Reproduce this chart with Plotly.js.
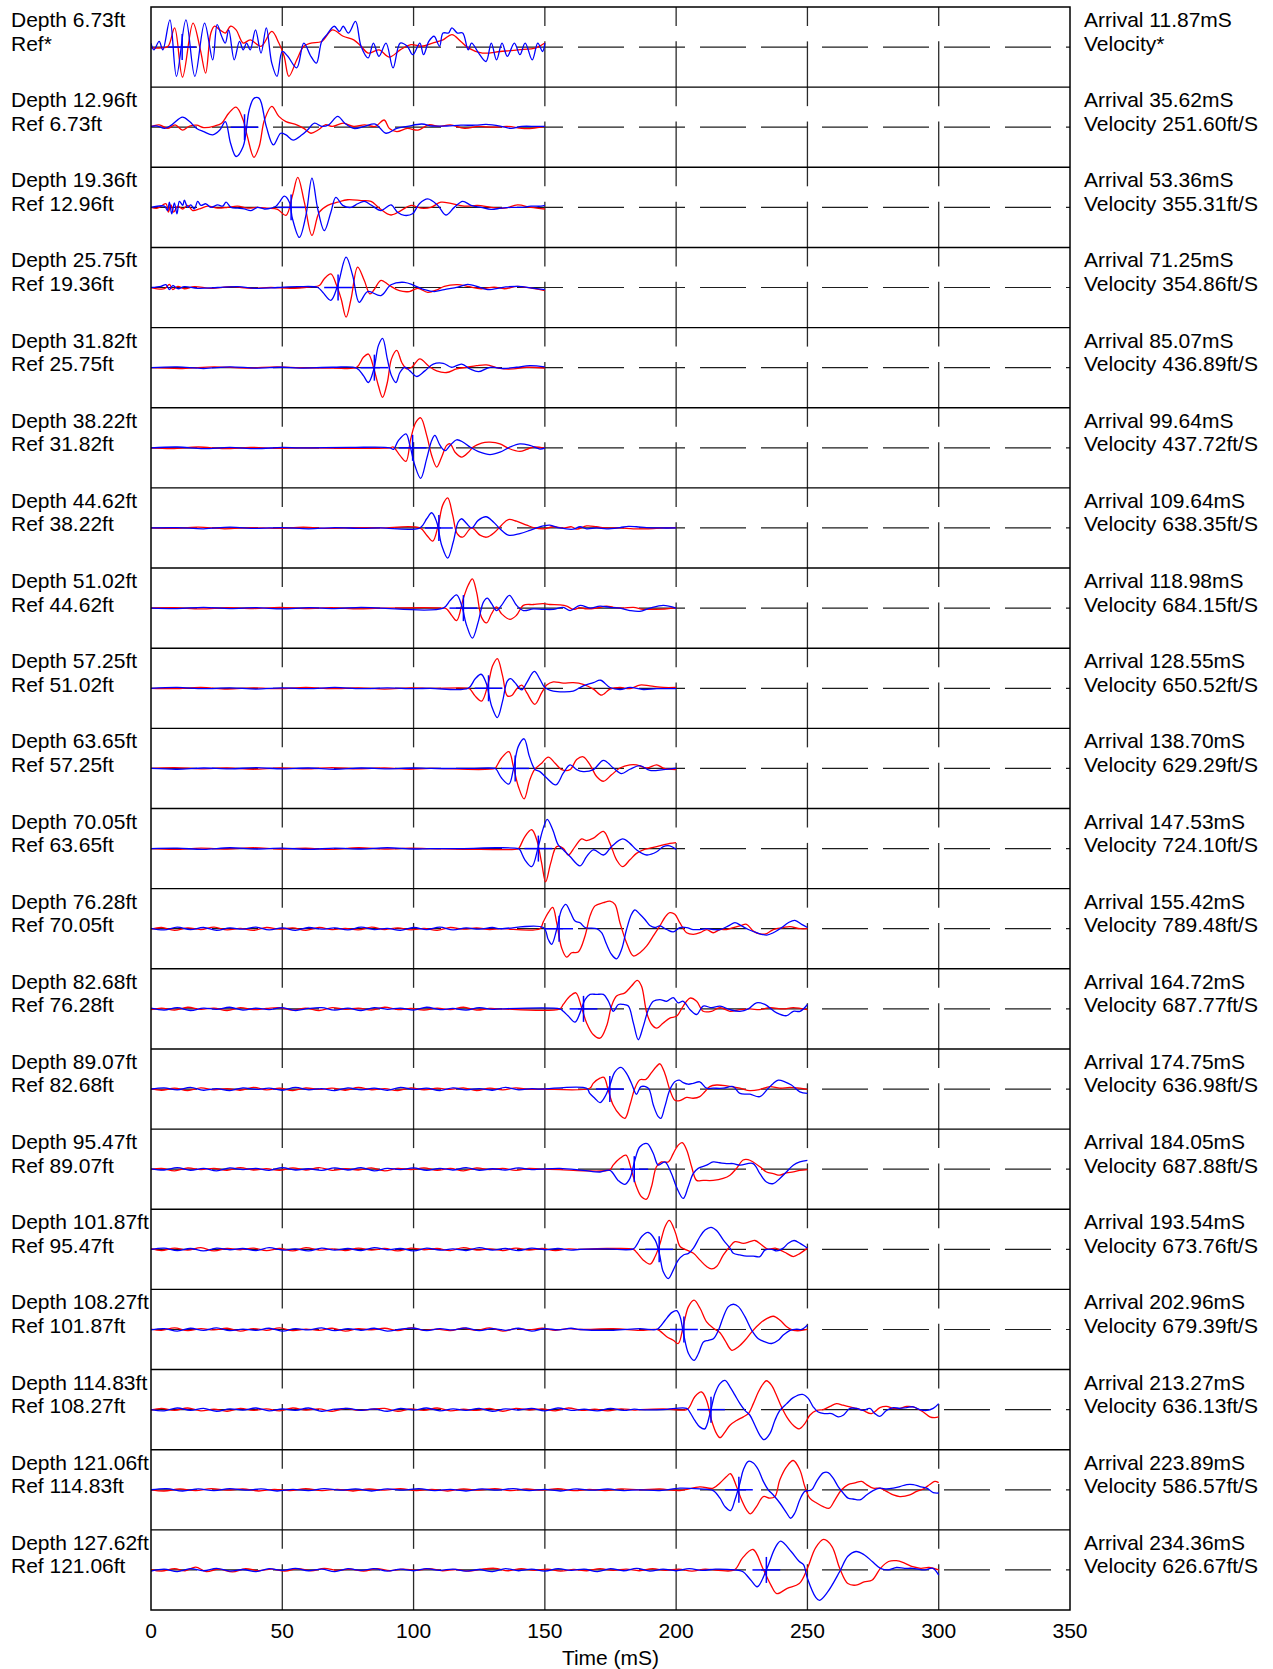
<!DOCTYPE html>
<html>
<head>
<meta charset="utf-8">
<script src="https://cdn.plot.ly/plotly-3.0.1.min.js"></script>
<style>
  html, body { margin: 0; padding: 0; background: #ffffff; }
  #chart { width: 1273px; height: 1669px; }
</style>
</head>
<body>
<div id="chart"></div>
<script>
// Receiver depths (ft), reference depths, picked arrivals (mS) and interval velocities (ft/S)
const depths = [6.73, 12.96, 19.36, 25.75, 31.82, 38.22, 44.62, 51.02, 57.25, 63.65,
                70.05, 76.28, 82.68, 89.07, 95.47, 101.87, 108.27, 114.83, 121.06, 127.62];
const refs = [null, 6.73, 12.96, 19.36, 25.75, 31.82, 38.22, 44.62, 51.02, 57.25,
              63.65, 70.05, 76.28, 82.68, 89.07, 95.47, 101.87, 108.27, 114.83, 121.06];
const arrivals = [11.87, 35.62, 53.36, 71.25, 85.07, 99.64, 109.64, 118.98, 128.55, 138.70,
                  147.53, 155.42, 164.72, 174.75, 184.05, 193.54, 202.96, 213.27, 223.89, 234.36];
const velocities = [null, 251.60, 355.31, 354.86, 436.89, 437.72, 638.35, 684.15, 650.52, 629.29,
                    724.10, 789.48, 687.77, 636.98, 687.88, 673.76, 679.39, 636.13, 586.57, 626.67];
// Length of each recorded window (mS)
const recordEnd = [150, 150, 150, 150, 150, 150, 200, 200, 200, 200,
                   200, 250, 250, 250, 250, 250, 250, 300, 300, 300];
const timeTicks = [0, 50, 100, 150, 200, 250, 300, 350];

// Waveforms: flat [time mS, amplitude %] pairs; amplitude 100 = half the trace band
const red01 = [0,-2, 3.8,-2, 6.5,2, 9.0,48, 12.0,-75, 16.0,60, 18.8,-7, 20.8,-65, 22.8,35, 24.2,52, 26.2,43, 28.3,35, 30.3,52, 32.4,43, 35.1,10, 37.8,18, 41.9,2, 46.0,39, 48.7,10, 50.7,-23, 52.5,-73, 55.5,-32, 58.2,2, 60.9,10, 65.0,14, 69.1,43, 73.2,27, 77.2,18, 80.0,2, 82.7,-15, 86.8,-7, 90.8,-25, 94.9,-7, 99.0,6, 103.1,2, 107.2,10, 111.2,18, 114.6,31, 118.0,14, 120.8,-2, 126.2,-15, 133.0,-11, 139.8,-7, 146.6,-2, 150,10];
const blue01 = [0,10, 1.1,-7, 3.1,14, 4.5,-7, 7.2,68, 9.7,-73, 13.3,68, 16.7,-73, 20.4,60, 23.5,-32, 25.2,56, 26.9,27, 28.3,10, 29.6,43, 31.7,-32, 33.7,14, 35.1,-7, 36.4,10, 37.8,-7, 39.8,43, 41.9,-15, 43.9,48, 46.0,-40, 48.0,-73, 50.0,-11, 52.1,-23, 55.5,-52, 58.2,10, 60.9,-23, 63.0,-40, 65.0,14, 67.0,31, 69.8,52, 71.8,39, 73.2,52, 75.2,35, 77.9,64, 80.0,2, 82.7,-27, 84.7,10, 86.8,-23, 89.5,10, 92.2,-52, 94.9,10, 97.6,2, 99.7,-19, 102.4,10, 103.8,-19, 105.8,14, 107.8,27, 109.9,2, 111.2,35, 113.3,35, 114.6,48, 116.7,35, 118.7,35, 120.8,-7, 122.1,10, 124.8,-15, 127.6,-36, 129.6,10, 131.6,-32, 133.7,10, 135.7,-23, 138.4,10, 140.5,-19, 142.5,10, 145.2,-32, 147.3,10, 149.1,-11, 150,10];

const red02 = [0,2, 3.1,6, 6.5,-3, 9.2,6, 12.0,-7, 14.7,3, 17.4,5, 20.1,-1, 24.2,3, 26.9,10, 29.6,35, 32.4,50, 35.1,18, 36.7,-23, 39.2,-75, 41.2,-48, 43.2,18, 46.0,52, 48.7,27, 51.4,14, 55.5,6, 58.2,-3, 60.9,-15, 63.6,-7, 66.4,6, 69.1,2, 73.2,10, 77.2,2, 81.3,6, 85.4,2, 88.8,18, 90.8,-3, 93.6,-11, 97.6,-3, 101.7,-7, 105.8,6, 109.9,2, 114.0,6, 119.4,-3, 124.8,2, 130.3,0, 135.7,2, 141.2,-3, 145.2,-3, 150,2];
const blue02 = [0,2, 2.4,3, 5.2,-3, 7.9,6, 12.0,25, 14.7,14, 17.4,-3, 20.1,-11, 23.5,-19, 26.2,-7, 28.3,14, 30.3,-40, 32.4,-73, 35.1,-48, 37.4,43, 39.2,72, 41.2,72, 43.9,2, 46.6,-44, 49.4,-15, 51.4,-19, 54.1,-32, 57.5,-19, 59.6,-7, 62.3,10, 65.0,2, 67.7,6, 71.1,27, 73.8,10, 77.2,-3, 81.3,2, 85.4,8, 89.5,-15, 93.6,-3, 97.6,2, 103.1,8, 107.2,3, 112.6,3, 118.0,5, 123.5,5, 127.6,7, 133.0,3, 137.1,-3, 141.2,2, 146.6,2, 150,2];

const red03 = [0,0, 2.5,-2, 5.7,9, 6.6,-12, 7.6,6, 8.6,-12, 10.2,3, 12.1,-4, 14.0,5, 15.9,-8, 18.4,-4, 21.6,3, 25.4,-2, 29.2,0, 33.0,3, 36.8,-2, 40.6,0, 44.4,-2, 48.2,-5, 51.4,-20, 53.9,30, 55.9,75, 58.4,13, 61.3,-70, 64.1,-12, 67.3,5, 71.1,13, 74.9,19, 80.0,17, 83.8,15, 87.0,-2, 91.4,-19, 95.2,-8, 99.0,5, 102.8,-2, 106.6,0, 110.4,13, 114.2,10, 119.3,3, 124.4,5, 129.5,0, 134.6,-2, 139.6,6, 144.7,0, 150,-4];
const blue03 = [0,0, 5.1,3, 6.3,-8, 7.0,13, 7.9,-16, 8.9,11, 9.9,-16, 10.8,15, 12.1,5, 12.7,18, 14.0,0, 15.2,6, 16.5,-4, 17.8,15, 19.0,5, 20.9,9, 22.8,0, 25.4,6, 27.3,3, 28.6,13, 30.5,0, 33.0,-2, 35.5,-4, 38.1,-8, 40.6,0, 43.2,-4, 45.7,-2, 47.6,3, 48.9,13, 50.8,28, 52.7,13, 53.9,-29, 56.5,-75, 59.0,-20, 61.3,73, 63.5,-4, 66.0,-58, 68.5,-12, 70.4,25, 73.0,5, 76.2,0, 78.7,9, 81.2,15, 83.8,6, 87.6,-8, 91.4,6, 93.9,-12, 96.5,-20, 99.6,-16, 102.2,9, 105.4,21, 109.2,5, 112.3,-19, 115.5,0, 118.7,15, 121.9,5, 125.7,0, 129.5,-5, 133.3,-2, 137.1,0, 140.9,0, 144.7,3, 148.5,3, 150,5];

const red04 = [0,0, 5.1,-3, 7.0,8, 8.3,-5, 10.2,3, 12.7,-3, 16.5,2, 22.8,-2, 30.5,2, 38.1,-2, 45.7,0, 53.3,-2, 60.9,2, 64.1,5, 66.0,22, 68.5,34, 70.7,5, 72.4,-28, 74.3,-74, 76.2,-28, 78.7,51, 81.2,18, 83.4,-16, 85.0,-5, 87.6,18, 90.8,5, 94.6,-8, 98.4,-10, 101.6,-2, 105.4,-12, 109.2,-5, 111.7,3, 116.8,7, 120.6,3, 125.7,-3, 130.7,1, 134.6,-3, 139.6,3, 146.0,-3, 150,-8];
const blue04 = [0,0, 3.8,3, 5.7,7, 7.0,-5, 8.3,5, 10.2,-3, 12.7,2, 17.8,-2, 25.4,0, 33.0,2, 40.6,-2, 48.2,0, 55.9,2, 63.5,0, 65.4,-12, 68.5,-32, 71.1,5, 74.3,76, 76.8,30, 79.3,-37, 82.5,-10, 87.6,-20, 91.4,7, 96.5,13, 100.3,5, 104.1,-5, 107.9,-10, 111.7,-5, 116.8,1, 120.6,8, 125.0,1, 128.2,-5, 134.6,1, 139.6,3, 146.0,-2, 150,-5];

const red05 = [0,0, 12,-2, 24,2, 36,-1, 48,2, 56.7,0, 69.4,-1, 78.3,1, 80.9,26, 82.8,34, 84.9,-3, 86.6,-45, 88.2,-74, 90.0,-37, 91.6,22, 93.6,43, 95.5,13, 97.4,-3, 99.3,1, 102.4,22, 105.6,5, 108.8,-8, 112.6,-12, 116.4,-3, 120.2,1, 124.0,5, 127.8,7, 132.9,-2, 138.0,-3, 143.1,1, 150,-1];
const blue05 = [0,0, 10,2, 20,-2, 30,2, 40,-1, 50,1, 56.7,-1, 69.4,1, 78.3,-1, 80.9,-20, 82.8,-37, 84.9,-3, 86.6,55, 88.2,73, 90.0,22, 91.6,-20, 93.3,-37, 94.8,-12, 96.7,1, 98.6,-8, 101.2,-22, 104.3,-8, 107.5,9, 111.3,11, 114.5,1, 118.3,9, 121.5,-3, 124.7,-10, 129.1,1, 134.2,-2, 139.2,1, 144.3,5, 150,2];

const red06 = [0,0, 8,-2, 18,2, 28,-2, 38,1, 48,-1, 56.7,0, 75.8,-1, 91.0,0, 92.3,2, 94.8,-19, 97.1,-34, 98.9,22, 100.9,64, 102.7,75, 105.0,31, 106.9,-19, 108.8,-48, 110.7,-23, 112.6,6, 113.9,10, 115.8,-11, 118.3,-23, 120.9,-11, 122.7,2, 125.9,12, 129.1,14, 132.9,10, 136.1,-1, 140.5,-9, 143.1,-4, 145.6,2, 150,-1];
const blue06 = [0,0, 10,2, 20,-2, 30,1, 40,-2, 50,1, 56.7,0, 75.8,1, 91.0,0, 92.3,-4, 94.2,18, 97.1,35, 98.6,6, 100.5,-44, 102.7,-76, 105.0,-27, 106.9,18, 108.1,31, 110.1,6, 112.0,-7, 113.9,6, 116.4,20, 118.9,14, 121.5,2, 125.3,-11, 129.1,-17, 132.9,-11, 136.7,2, 140.5,10, 144.3,6, 148.1,-3, 150,-1];

const red07 = [0,0, 8,-1, 18,2, 28,-2, 38,1, 48,-1, 58,2, 68,-1, 78,1, 87.2,0, 102.4,0, 105.0,-18, 107.3,-33, 109.4,7, 111.1,57, 113.0,75, 114.9,32, 116.6,-14, 118.7,-23, 122.1,0, 125.3,-18, 127.8,-23, 131.0,-10, 133.5,7, 136.1,21, 139.2,17, 143.1,7, 146.2,0, 149.4,-2, 153.2,3, 157.0,0, 160.2,3, 162.1,-3, 165.9,5, 169.7,3, 173.5,0, 178.6,0, 183.7,-2, 188.7,-2, 195.1,0, 200,1];
const blue07 = [0,0, 10,1, 20,-2, 30,2, 40,-1, 50,1, 60,-2, 70,1, 80,-1, 87.2,0, 102.4,0, 105.0,23, 106.9,38, 108.8,15, 110.7,-43, 113.0,-75, 115.1,-35, 117.0,15, 118.3,23, 120.2,11, 122.1,0, 124.6,19, 127.6,28, 130.4,15, 132.9,-2, 136.1,-18, 140.5,-14, 144.3,-6, 146.9,0, 149.4,5, 151.9,7, 155.7,0, 160.8,-3, 163.4,3, 165.9,-2, 169.7,0, 173.5,-2, 178.6,1, 181.8,4, 184.9,3, 188.7,1, 193.8,0, 200,0];

const red08 = [0,0, 9,1, 19,-2, 29,1, 39,-1, 49,2, 59,-1, 69,1, 79,-2, 87.2,0, 111.3,0, 112.6,-2, 114.5,-18, 116.4,-31, 118.9,23, 120.8,57, 122.4,73, 124.0,40, 125.9,-23, 127.8,-37, 129.7,-14, 131.6,3, 133.5,-14, 136.7,-28, 139.2,-18, 141.8,7, 145.6,9, 149.4,11, 151.9,9, 155.7,8, 158.3,5, 160.8,-3, 163.4,1, 165.9,-2, 169.7,0, 173.5,5, 176.1,2, 179.9,0, 183.7,2, 187.5,-3, 191.3,-3, 196.4,-2, 200,1];
const blue08 = [0,0, 10,-1, 20,2, 30,-1, 40,1, 50,-2, 60,1, 70,-1, 80,2, 87.2,0, 111.3,0, 113.9,19, 116.4,33, 118.3,7, 120.2,-43, 122.4,-75, 124.6,-35, 126.6,15, 128.1,25, 129.7,11, 131.6,-6, 133.5,7, 136.5,32, 139.2,7, 141.8,-6, 145.6,-2, 149.4,-3, 153.2,-3, 157.0,2, 159.6,-6, 163.4,7, 167.2,0, 171.0,5, 174.8,2, 178.6,0, 182.4,-6, 186.2,-8, 190.0,0, 195.1,7, 200,0];

const red09 = [0,0, 9,-1, 19,2, 29,-2, 39,1, 49,-1, 59,2, 69,-1, 79,1, 89,-2, 99,1, 106.3,0, 120.8,0, 121.5,-2, 123.4,-19, 125.9,-32, 128.5,14, 130.1,56, 131.9,74, 133.9,31, 135.7,-19, 137.4,-18, 139.3,-1, 141.2,8, 143.1,-11, 146.2,-40, 148.8,-11, 150.7,8, 153.2,16, 157.0,13, 160.8,14, 164.6,10, 168.5,-2, 171.6,-17, 174.8,-2, 178.6,2, 182.4,-1, 186.2,8, 190.0,6, 195.1,2, 200,2];
const blue09 = [0,0, 10,2, 20,-1, 30,1, 40,-2, 50,1, 60,-1, 70,2, 80,-1, 90,1, 100,-1, 106.3,0, 120.8,0, 123.4,23, 125.7,35, 127.6,14, 129.7,-44, 131.9,-73, 133.9,-32, 135.7,18, 137.0,24, 138.6,14, 141.2,-4, 143.1,14, 146.0,42, 148.1,23, 150.0,2, 153.2,-7, 157.0,-9, 160.8,-7, 164.6,6, 168.5,14, 171.2,20, 174.8,2, 178.6,-3, 182.4,2, 187.5,-3, 192.6,-1, 200,-1];

const red10 = [0,0, 9,2, 19,-1, 29,1, 39,-2, 49,1, 59,-1, 69,2, 79,-1, 89,1, 99,-2, 106.3,0, 131.0,0, 131.6,5, 133.5,26, 136.3,42, 138.0,5, 139.9,-45, 142.1,-76, 144.3,-28, 146.2,-2, 148.8,13, 151.3,28, 153.9,13, 156.4,-3, 159.6,-3, 162.1,22, 164.6,29, 167.2,9, 169.7,-20, 172.3,-32, 175.4,-16, 178.6,1, 182.4,9, 184.9,9, 188.8,1, 192.6,9, 195.1,1, 200,-3];
const blue10 = [0,0, 10,-2, 20,1, 30,-1, 40,2, 50,-1, 60,1, 70,-2, 80,1, 90,-1, 100,1, 106.3,0, 121.5,0, 131.0,0, 131.6,-3, 133.5,-24, 136.3,-39, 138.0,-3, 139.9,55, 142.1,74, 144.1,30, 146.2,-2, 148.1,-8, 150.7,-24, 154.2,-41, 157.0,-12, 159.6,9, 162.1,-3, 164.6,-8, 168.5,-3, 172.3,20, 176.1,1, 179.2,-13, 182.4,-2, 186.2,7, 190.0,-5, 195.1,-3, 200,1];

const red11 = [0,0, 9,-2, 19,1, 29,-1, 39,2, 49,-1, 59,1, 69,-2, 79,2, 89,-1, 99,1, 106.3,0, 125.3,-2, 139.9,0, 140.5,5, 142.4,30, 145.0,47, 146.9,22, 148.8,-37, 150.3,-83, 152.2,-37, 154.5,5, 157.0,1, 158.9,-16, 161.5,5, 164.0,24, 165.9,20, 168.5,26, 172.3,43, 174.8,13, 177.3,-28, 179.6,-45, 182.4,-28, 184.9,-12, 187.5,-3, 190.0,1, 192.6,5, 195.1,9, 197.6,13, 200,15];
const blue11 = [0,0, 10,1, 20,-2, 30,2, 40,-1, 50,1, 60,-2, 70,1, 80,-1, 90,2, 100,-1, 106.3,0, 119.0,0, 131.6,2, 139.9,0, 140.5,-3, 142.4,-28, 145.0,-45, 147.5,5, 149.4,51, 150.9,73, 153.0,47, 155.1,9, 157.0,-3, 159.6,-20, 163.4,-43, 165.9,-20, 168.5,-3, 172.3,-16, 175.4,5, 179.6,24, 182.4,13, 184.9,-3, 188.8,-16, 192.6,-8, 195.1,5, 197.6,7, 200,-2];

const red12 = [0,-1, 4,3, 9,-4, 14,2, 19,-2, 24,4, 29,-3, 34,1, 39,-4, 44,3, 49,-1, 54,2, 59,-4, 64,3, 69,-2, 74,1, 79,-3, 84,4, 89,-2, 94,2, 99,-3, 104,1, 109,-4, 114,3, 119,-1, 124,2, 129,-2, 132.9,0, 148.1,0, 149.4,17, 151.3,40, 153.0,53, 154.5,15, 156.4,-48, 158.3,-71, 160.2,-60, 162.7,-58, 165.3,-18, 167.2,32, 169.1,57, 172.3,65, 174.8,69, 176.7,61, 178.6,15, 181.1,-35, 183.7,-68, 186.2,-60, 188.8,-43, 191.3,-18, 193.8,7, 195.7,28, 197.6,40, 199.5,36, 201.4,15, 204.0,-10, 206.5,-14, 209.1,-10, 211.6,-2, 214.1,-10, 216.7,-2, 219.2,-2, 221.8,3, 224.3,7, 226.8,11, 229.4,-6, 231.9,-13, 234.5,-12, 237.0,-2, 240.8,3, 243.3,5, 247.2,0, 250,0];
const blue12 = [0,1, 5,-3, 10,4, 15,-2, 20,3, 25,-4, 30,2, 35,-1, 40,4, 45,-3, 50,2, 55,-4, 60,3, 65,-1, 70,2, 75,-3, 80,4, 85,-2, 90,1, 95,-4, 100,3, 105,-2, 110,4, 115,-3, 120,2, 125,-1, 130,3, 132.9,0, 149.4,3, 151.3,-27, 152.6,-39, 154.5,-2, 156.4,48, 158.0,61, 159.8,40, 161.5,19, 163.4,15, 165.3,3, 169.7,0, 171.6,-10, 173.5,-39, 175.4,-64, 177.3,-75, 179.2,-52, 181.1,-2, 183.0,36, 184.3,47, 186.2,36, 188.1,23, 190.0,8, 191.9,3, 193.8,7, 196.4,-2, 198.9,-8, 201.4,3, 204.0,3, 206.5,-2, 209.1,-2, 211.6,0, 214.1,-2, 216.7,-2, 219.9,7, 222.4,15, 224.9,7, 227.5,-2, 230.6,-10, 234.5,-16, 237.0,-10, 240.2,3, 242.7,15, 245.2,21, 247.8,11, 250,3];

const red13 = [0,-2, 4,2, 9,-3, 14,4, 19,-1, 24,2, 29,-4, 34,3, 39,-2, 44,1, 49,3, 54,-3, 59,2, 64,-4, 69,3, 74,-1, 79,2, 84,-3, 89,4, 94,-2, 99,1, 104,-3, 109,2, 114,-2, 119,4, 124,-3, 129,1, 132.9,0, 155.7,0, 157.0,11, 159.6,32, 161.8,40, 164.0,3, 165.9,-35, 168.4,-64, 171.0,-73, 173.5,-43, 175.4,7, 177.3,32, 180.5,40, 183.0,57, 185.2,71, 186.8,57, 188.8,-10, 190.7,-39, 192.6,-48, 195.1,-35, 197.6,-23, 200.2,-18, 202.7,7, 205.3,27, 207.8,19, 210.3,-6, 213.5,-6, 216.7,3, 220.5,-6, 224.3,-2, 228.1,0, 231.9,-2, 235.7,3, 240.8,0, 244.6,3, 250,-2];
const blue13 = [0,2, 5,-3, 10,3, 15,-4, 20,2, 25,-1, 30,4, 35,-3, 40,2, 45,-2, 50,3, 55,-4, 60,1, 65,3, 70,-3, 75,2, 80,-4, 85,3, 90,-1, 95,2, 100,-3, 105,4, 110,-2, 115,1, 120,-3, 125,3, 130,-1, 132.9,0, 155.7,0, 157.0,-6, 158.9,-18, 161.5,-33, 163.4,-10, 165.3,23, 167.2,36, 169.7,36, 172.3,36, 174.2,19, 176.1,-6, 178.0,11, 179.9,11, 181.8,7, 183.7,-35, 185.6,-77, 187.5,-43, 189.4,-2, 191.3,19, 193.8,23, 196.4,19, 198.9,28, 200.8,15, 202.7,19, 205.3,-2, 207.8,-14, 210.3,7, 213.5,3, 216.7,7, 220.5,-2, 224.3,-6, 227.5,0, 230.6,15, 233.8,11, 238.3,-10, 242.1,-17, 244.6,-6, 247.2,-6, 250,11];

const red14 = [0,1, 4,-3, 9,2, 14,-4, 19,3, 24,-2, 29,1, 34,-3, 39,4, 44,-2, 49,2, 54,-4, 59,3, 64,-1, 69,2, 74,-3, 79,4, 84,-2, 89,1, 94,-4, 99,3, 104,-2, 109,2, 114,-1, 119,3, 124,-4, 129,2, 134,-2, 139,3, 144,-1, 148.1,0, 167.1,2, 168.4,14, 171.0,27, 172.5,29, 174.1,-2, 176.0,-40, 178.6,-65, 180.5,-73, 182.4,-40, 184.3,2, 186.2,23, 188.5,24, 190.6,41, 192.5,56, 193.8,63, 195.7,39, 197.6,-2, 199.5,-28, 201.4,-29, 204.0,-21, 206.5,-23, 209.0,-19, 210.9,-7, 212.8,6, 215.4,10, 219.2,8, 224.3,2, 228.1,-4, 231.9,-1, 235.7,6, 239.5,2, 243.3,4, 247.1,2, 250,-1];
const blue14 = [0,0, 5,3, 10,-2, 15,4, 20,-3, 25,1, 30,-4, 35,3, 40,-1, 45,2, 50,-3, 55,4, 60,-2, 65,1, 70,-4, 75,3, 80,-2, 85,2, 90,-3, 95,4, 100,-1, 105,2, 110,-4, 115,3, 120,-2, 125,1, 130,-3, 135,4, 140,-2, 145,1, 148.1,0, 165.9,2, 167.1,-11, 169.0,-23, 171.0,-34, 172.9,-19, 174.8,10, 176.7,43, 179.0,54, 181.1,39, 183.0,14, 184.9,-13, 186.6,6, 189.4,2, 191.3,-40, 193.2,-69, 194.2,-73, 195.7,-44, 197.6,-2, 199.5,18, 201.2,22, 202.7,16, 204.6,12, 206.5,14, 209.0,18, 211.6,2, 214.1,2, 217.9,2, 221.7,6, 224.3,-11, 228.1,-13, 231.9,-19, 235.1,2, 237.0,14, 238.9,22, 241.4,18, 243.9,10, 247.1,-7, 250,-11];

const red15 = [0,-1, 4,2, 9,-4, 14,3, 19,-1, 24,2, 29,-3, 34,4, 39,-2, 44,1, 49,-3, 54,3, 59,-2, 64,4, 69,-3, 74,1, 79,-2, 84,3, 89,-4, 94,2, 99,-1, 104,3, 109,-3, 114,2, 119,-4, 124,3, 129,-1, 134,2, 139,-3, 144,2, 148.1,0, 155.7,-1, 164.6,-4, 174.8,-1, 176.0,10, 178.6,27, 180.9,35, 183.0,-3, 184.9,-44, 186.8,-69, 188.7,-75, 190.6,-44, 192.5,6, 194.4,18, 197.0,18, 198.9,39, 200.8,60, 202.3,66, 204.0,48, 205.9,6, 207.8,-28, 210.3,-28, 214.1,-28, 217.9,-23, 220.5,-15, 223.0,2, 225.5,23, 227.4,24, 229.3,18, 231.9,6, 234.4,-7, 237.0,-11, 239.5,-15, 242.0,-9, 244.6,-7, 247.1,-3, 250,-1];
const blue15 = [0,1, 5,-2, 10,4, 15,-3, 20,2, 25,-4, 30,3, 35,-1, 40,2, 45,-3, 50,4, 55,-2, 60,1, 65,-3, 70,3, 75,-2, 80,4, 85,-4, 90,2, 95,-1, 100,3, 105,-3, 110,2, 115,-2, 120,4, 125,-3, 130,1, 135,-2, 140,3, 145,-1, 148.1,0, 155.7,2, 164.6,-3, 171.0,-7, 174.8,-3, 177.9,-28, 180.5,-38, 182.4,-23, 184.3,23, 186.2,56, 189.0,64, 191.3,39, 193.2,10, 195.7,18, 198.2,-11, 200.1,-44, 202.7,-73, 204.6,-44, 206.5,-11, 208.4,2, 211.6,10, 214.1,18, 216.6,16, 219.2,14, 221.7,14, 224.3,10, 229.3,14, 231.9,-11, 234.4,-32, 237.0,-36, 239.5,-23, 242.0,-7, 244.6,10, 247.1,18, 250,22];

const red16 = [0,2, 4,-3, 9,3, 14,-2, 19,4, 24,-4, 29,2, 34,-1, 39,3, 44,-3, 49,2, 54,-4, 59,4, 64,-2, 69,1, 74,-3, 79,3, 84,-2, 89,2, 94,-4, 99,3, 104,-1, 109,2, 114,-3, 119,4, 124,-2, 129,1, 134,-3, 139,3, 144,-2, 149,2, 154,-3, 159,1, 163.4,0, 173.6,2, 183.7,0, 185.0,-8, 187.5,-27, 190.1,-37, 192.0,-18, 193.9,15, 195.8,57, 197.4,72, 199.6,44, 201.5,7, 203.4,0, 206.6,-10, 209.1,-27, 211.6,-43, 213.5,-49, 215.4,-43, 218.0,-14, 220.5,7, 222.4,19, 225.6,15, 228.1,19, 230.0,22, 232.6,11, 235.1,0, 237.7,3, 239.6,-2, 242.1,-10, 244.6,-18, 247.2,-10, 250,3];
const blue16 = [0,0, 5,3, 10,-3, 15,2, 20,-4, 25,3, 30,-1, 35,2, 40,-3, 45,4, 50,-2, 55,1, 60,-4, 65,3, 70,-2, 75,2, 80,-3, 85,4, 90,-1, 95,2, 100,-4, 105,3, 110,-2, 115,1, 120,-3, 125,4, 130,-2, 135,2, 140,-3, 145,3, 150,-1, 155,2, 160,-2, 163.4,0, 173.6,1, 183.7,1, 185.0,11, 186.9,32, 189.4,42, 192.0,23, 193.6,-10, 195.1,-56, 197.0,-73, 198.9,-52, 200.8,-27, 202.8,-14, 204.7,-10, 206.6,3, 209.1,32, 211.0,48, 213.3,55, 215.4,47, 218.0,23, 220.5,3, 221.8,-10, 224.3,-14, 226.9,-17, 229.4,-17, 231.9,-18, 233.8,-2, 236.4,0, 238.3,-4, 240.8,3, 242.7,15, 244.9,22, 247.2,15, 249.1,7, 250,3];

const red17 = [0,1, 4,-2, 9,4, 14,-3, 19,2, 24,-1, 29,3, 34,-4, 39,2, 44,-2, 49,4, 54,-3, 59,1, 64,-2, 69,3, 74,-4, 79,2, 84,-1, 89,3, 94,-3, 99,4, 104,-2, 109,1, 114,-3, 119,3, 124,-2, 129,4, 134,-4, 139,2, 144,-1, 149,3, 154,-2, 159,2, 163.4,0, 176.1,2, 186.2,-2, 192.6,0, 193.9,-4, 196.4,-18, 198.9,-27, 200.8,-35, 202.8,11, 204.7,57, 206.8,73, 209.1,53, 211.6,19, 214.2,3, 216.7,-8, 218.6,-27, 221.2,-52, 223.7,-43, 226.2,-27, 228.8,-6, 231.9,15, 234.5,27, 237.0,33, 239.6,23, 242.1,7, 244.6,-2, 247.2,-3, 250,0];
const blue17 = [0,-1, 5,2, 10,-4, 15,3, 20,-2, 25,4, 30,-3, 35,1, 40,-2, 45,3, 50,-4, 55,2, 60,-1, 65,4, 70,-3, 75,2, 80,-2, 85,3, 90,-4, 95,1, 100,3, 105,-3, 110,2, 115,-1, 120,4, 125,-3, 130,2, 135,-2, 140,3, 145,-4, 150,2, 155,-1, 160,3, 163.4,0, 176.1,-2, 186.2,2, 192.6,0, 193.9,7, 195.8,23, 198.3,42, 200.2,47, 201.5,32, 202.8,-10, 204.7,-60, 206.8,-77, 208.5,-60, 210.4,-31, 212.3,-27, 214.2,-23, 216.1,-2, 218.0,32, 219.9,57, 221.8,63, 223.7,57, 226.2,32, 228.8,-2, 231.3,-23, 233.9,-31, 236.4,-35, 238.9,-27, 240.8,-14, 243.4,-2, 245.9,1, 247.8,0, 250,11];

const red18 = [0,-1, 4,3, 9,-2, 14,4, 19,-3, 24,1, 29,-4, 34,3, 39,-2, 44,2, 49,-3, 54,4, 59,-1, 64,2, 69,-4, 74,3, 79,-2, 84,1, 89,3, 94,-4, 99,2, 104,-2, 109,4, 114,-3, 119,1, 124,-2, 129,3, 134,-4, 139,3, 144,-1, 149,2, 154,-3, 159,4, 164,-2, 169,1, 174,-3, 179,2, 184,-1, 186.2,0, 195.1,2, 204.0,0, 205.2,8, 207.1,32, 209.7,44, 211.6,23, 213.5,-27, 215.4,-60, 216.7,-70, 218.6,-56, 220.5,-39, 223.0,-27, 225.6,-18, 227.5,-10, 229.4,15, 231.3,44, 233.2,65, 234.4,72, 236.3,61, 238.2,36, 240.1,7, 242.1,-18, 244.6,-39, 246.9,-48, 249.0,-35, 250.9,-14, 253.5,-2, 256.0,0, 258.6,8, 261.1,15, 263.6,11, 266.2,7, 268.7,3, 271.2,-2, 274.4,-10, 277.6,5, 280.1,8, 282.7,3, 285.2,3, 287.8,8, 290.3,7, 294.1,-6, 296.6,-18, 298.5,-20, 300,-18];
const blue18 = [0,0, 5,-3, 10,4, 15,-2, 20,3, 25,-4, 30,2, 35,-1, 40,4, 45,-3, 50,2, 55,-2, 60,4, 65,-4, 70,1, 75,3, 80,-2, 85,2, 90,-4, 95,3, 100,-1, 105,4, 110,-3, 115,2, 120,-2, 125,3, 130,-4, 135,2, 140,-1, 145,3, 150,-3, 155,4, 160,-2, 165,1, 170,-3, 175,3, 180,-2, 184,1, 186.2,0, 195.1,0, 204.0,3, 205.2,-6, 207.1,-27, 209.0,-43, 210.9,-48, 212.9,-10, 214.8,40, 216.7,65, 218.6,73, 220.5,57, 222.4,36, 224.3,15, 226.2,-2, 228.1,-14, 230.0,-39, 231.9,-64, 233.5,-75, 235.7,-60, 237.6,-27, 239.5,-2, 242.1,15, 244.6,30, 248.1,38, 250.3,28, 252.2,7, 254.1,-6, 256.6,-10, 259.2,-10, 261.7,-18, 263.6,-14, 266.2,3, 268.7,3, 271.2,-2, 273.8,3, 275.7,-10, 277.6,-17, 280.1,-2, 282.7,5, 285.2,3, 287.8,5, 290.3,7, 292.8,0, 295.4,-2, 297.9,3, 300,15];

const red19 = [0,0, 5,-3, 11,2, 17,-2, 23,3, 29,-1, 35,2, 41,-3, 47,1, 53,-2, 59,3, 65,-2, 71,1, 77,-3, 83,2, 89,-1, 95,3, 101,-2, 107,1, 113,-3, 119,2, 125,-1, 131,3, 137,-2, 143,2, 149,-1, 155,3, 161,-2, 167,1, 173,-2, 179,2, 186.2,0, 193.8,2, 201.4,-2, 209.0,7, 214.1,4, 216.7,17, 219.2,33, 220.7,40, 223.0,8, 224.9,-25, 226.8,-50, 228.3,-60, 230.6,-42, 233.2,-17, 235.7,-21, 237.6,-17, 239.5,25, 242.1,58, 244.6,73, 247.1,50, 249.0,8, 250.9,-21, 253.5,-33, 256.0,-42, 258.3,-46, 260.5,-25, 263.0,0, 265.5,13, 268.1,17, 270.6,21, 272.5,13, 275.0,4, 277.6,4, 280.1,-4, 282.7,-13, 285.2,-17, 289.0,-13, 291.6,-4, 294.1,2, 296.6,13, 298.5,21, 300,18];
const blue19 = [0,0, 6,3, 12,-3, 18,2, 24,-2, 30,3, 36,-1, 42,2, 48,-3, 54,1, 60,-2, 66,3, 72,-1, 78,2, 84,-3, 90,2, 96,-1, 102,3, 108,-2, 114,1, 120,-3, 126,2, 132,-1, 138,3, 144,-2, 150,1, 156,-3, 162,2, 168,-1, 174,2, 180,-2, 186.2,0, 193.8,-2, 201.4,4, 209.0,2, 214.1,-2, 216.7,-21, 218.6,-42, 220.7,-52, 222.4,-25, 224.3,17, 225.6,50, 227.5,71, 229.4,67, 231.3,50, 233.2,21, 235.1,0, 237.0,-13, 239.5,-33, 242.1,-58, 243.6,-71, 245.2,-58, 247.1,-25, 249.0,-4, 251.6,0, 253.5,21, 256.0,42, 257.9,43, 259.8,29, 261.7,8, 263.6,-8, 265.5,-21, 267.4,-23, 270.0,-25, 272.5,-13, 275.0,-2, 277.6,4, 280.1,2, 282.7,4, 285.2,8, 287.8,13, 290.3,13, 292.8,8, 295.4,4, 297.9,-7, 300,-8];

const red20 = [0,1, 4,-3, 9,3, 13,-2, 17,7, 21,-4, 26,2, 31,-5, 36,3, 41,-2, 46,2, 51,-3, 56,3, 61,-2, 66,4, 71,-1, 76,2, 81,-3, 86,3, 91,-2, 96,2, 101,-1, 106,3, 111,-2, 116,1, 121,-3, 126,2, 131,4, 136,-2, 141,3, 146,-1, 151,2, 156,-3, 161,1, 166,-2, 171,3, 176,-1, 181,2, 186,-2, 191,3, 196,-1, 201,2, 206,-3, 211,2, 216,-1, 222.2,0, 225.3,30, 229.3,51, 233.0,4, 236.1,-38, 238.3,-59, 242.3,-46, 246.9,-34, 250.0,4, 253.1,55, 256.2,76, 259.3,59, 262.3,4, 265.4,-34, 268.5,-38, 271.6,-30, 274.7,-25, 277.8,4, 280.9,21, 283.9,23, 287.0,17, 290.1,8, 293.2,4, 296.3,6, 300,0];
const blue20 = [0,-3, 5,2, 10,-4, 15,3, 20,-2, 25,4, 30,-3, 35,1, 40,-4, 45,3, 50,-1, 55,4, 60,-2, 65,2, 70,-4, 75,3, 80,-1, 85,3, 90,-3, 95,2, 100,-2, 105,3, 110,-1, 115,2, 120,-3, 125,1, 130,-4, 135,3, 140,-2, 145,2, 150,-3, 155,3, 160,-1, 165,2, 170,-4, 175,3, 180,-2, 185,4, 190,-3, 195,2, 200,-2, 205,3, 210,-1, 215,2, 222.2,0, 225.3,-4, 228.4,-25, 230.9,-42, 234.6,4, 237.7,55, 239.8,72, 243.8,46, 246.9,21, 248.5,13, 250.0,-21, 253.1,-68, 254.6,-76, 257.7,-55, 262.3,-4, 265.4,34, 268.5,46, 271.6,38, 274.7,21, 277.8,4, 280.9,0, 283.9,6, 287.0,4, 290.1,4, 294.8,0, 297.8,4, 300,-13];

const redTraces = [red01, red02, red03, red04, red05, red06, red07, red08, red09, red10,
                   red11, red12, red13, red14, red15, red16, red17, red18, red19, red20];
const blueTraces = [blue01, blue02, blue03, blue04, blue05, blue06, blue07, blue08, blue09, blue10,
                    blue11, blue12, blue13, blue14, blue15, blue16, blue17, blue18, blue19, blue20];

// ---- geometry ----
const W = 1273, H = 1669;
const M = { l: 151, r: 203, t: 7, b: 59 };
const nRows = depths.length;
const rowPx = (H - M.t - M.b) / nRows;       // pixel height of one trace band
const px = v => v / rowPx;                     // pixels -> y data units
const baseOf = i => nRows - i - 0.5;           // baseline of row i (top row = 0)
const FONT = 'Liberation Sans, Arial, Helvetica, sans-serif';
const RED = '#ff0000', BLUE = '#0000ff';

const data = [];
function pairsToXY(flat, i) {
  const x = [], y = [];
  for (let k = 0; k < flat.length; k += 2) {
    x.push(flat[k]);
    y.push(baseOf(i) + flat[k + 1] / 200);
  }
  return { x, y };
}
for (let i = 0; i < nRows; i++) {
  const r = pairsToXY(redTraces[i], i);
  const b = pairsToXY(blueTraces[i], i);
  data.push({ type: 'scatter', mode: 'lines', x: r.x, y: r.y, hoverinfo: 'skip',
              line: { color: RED, width: 1.3, shape: 'spline', smoothing: 1 } });
  data.push({ type: 'scatter', mode: 'lines', x: b.x, y: b.y, hoverinfo: 'skip',
              line: { color: BLUE, width: 1.3, shape: 'spline', smoothing: 1 } });
}

const shapes = [];
const gridTimes = timeTicks.slice(1, -1);
for (let i = 0; i < nRows; i++) {
  const top = nRows - i, bottom = nRows - i - 1, base = baseOf(i);
  // dashed zero line across the whole band
  shapes.push({ type: 'line', xref: 'x', yref: 'y', x0: 0, x1: 350, y0: base, y1: base, layer: 'below',
                line: { color: '#1e1e1e', width: 1.2, dash: '46px,15px' } });
  // time grid: short tick from the band top plus a long stroke down to the band bottom
  for (const g of gridTimes) {
    shapes.push({ type: 'line', xref: 'x', yref: 'y', x0: g, x1: g, y0: top, y1: top - px(19), layer: 'below',
                  line: { color: '#2a2a2a', width: 1.3 } });
    shapes.push({ type: 'line', xref: 'x', yref: 'y', x0: g, x1: g, y0: base + px(5.7), y1: bottom, layer: 'below',
                  line: { color: '#2a2a2a', width: 1.3 } });
  }
  if (i > 0) {
    shapes.push({ type: 'line', xref: 'x', yref: 'y', x0: 0, x1: 350, y0: top, y1: top, layer: 'above',
                  line: { color: '#000', width: 1.4 } });
  }
  // arrival pick cross
  const a = arrivals[i];
  shapes.push({ type: 'line', xref: 'x', yref: 'y', x0: a, x1: a, y0: base - px(13), y1: base + px(13), layer: 'above',
                line: { color: BLUE, width: 1.5 } });
  shapes.push({ type: 'line', xref: 'x', yref: 'y', x0: a - 5.3, x1: a + 5.3, y0: base, y1: base, layer: 'above',
                line: { color: BLUE, width: 1.5 } });
}
shapes.push({ type: 'rect', xref: 'paper', yref: 'paper', x0: 0, x1: 1, y0: 0, y1: 1, layer: 'above',
              line: { color: '#000', width: 1.5 } });

const annotations = [];
function label(text, i, lineOffsetPx, side) {
  annotations.push({
    text, showarrow: false, xref: 'paper', yref: 'y',
    x: side === 'left' ? 0 : 1, xshift: side === 'left' ? -142.5 : 11.7, xanchor: 'left',
    y: nRows - i - px(lineOffsetPx), yanchor: 'middle',
    font: { family: FONT, size: 21, color: '#000' }
  });
}
for (let i = 0; i < nRows; i++) {
  label('Depth ' + depths[i].toFixed(2) + 'ft', i, 12.5, 'left');
  label(refs[i] === null ? 'Ref*' : 'Ref ' + refs[i].toFixed(2) + 'ft', i, 36, 'left');
  label('Arrival ' + arrivals[i].toFixed(2) + 'mS', i, 12.5, 'right');
  label(velocities[i] === null ? 'Velocity*' : 'Velocity ' + velocities[i].toFixed(2) + 'ft/S', i, 36, 'right');
}

const layout = {
  width: W, height: H,
  margin: { l: M.l, r: M.r, t: M.t, b: M.b, pad: 0 },
  paper_bgcolor: '#ffffff', plot_bgcolor: '#ffffff',
  showlegend: false,
  font: { family: FONT, size: 21, color: '#000' },
  xaxis: {
    range: [0, 350], tickvals: timeTicks, ticktext: timeTicks.map(String),
    ticks: '', showgrid: false, zeroline: false, showline: false, fixedrange: true,
    ticklabelstandoff: 6,
    tickfont: { family: FONT, size: 21, color: '#000' },
    title: { text: 'Time (mS)', font: { family: FONT, size: 21, color: '#000' }, standoff: 8.5 }
  },
  yaxis: { range: [0, nRows], visible: false, fixedrange: true },
  shapes, annotations
};

Plotly.newPlot('chart', data, layout, { displayModeBar: false, staticPlot: true });
</script>
</body>
</html>
